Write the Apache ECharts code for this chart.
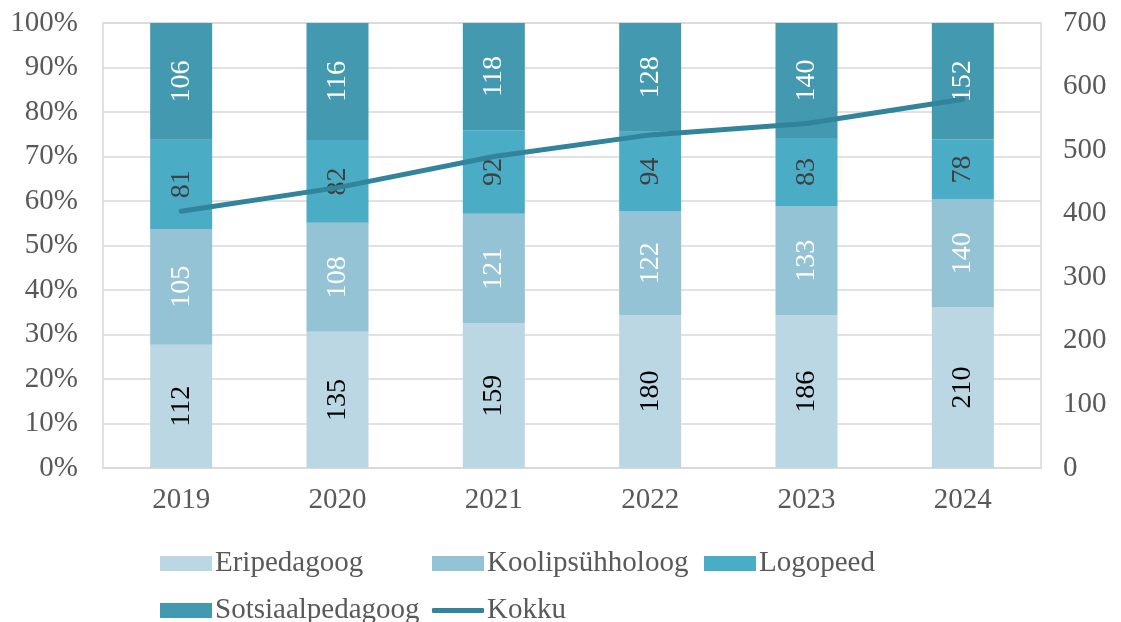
<!DOCTYPE html>
<html>
<head>
<meta charset="utf-8">
<script src="https://cdn.jsdelivr.net/npm/echarts@6/dist/echarts.min.js"></script>
<style>
  html, body { margin: 0; padding: 0; background: #fff; }
  #chart { width: 1121px; height: 622px; }
</style>
</head>
<body>
<div id="chart"></div>
<script>
// andmed
const years = ['2019', '2020', '2021', '2022', '2023', '2024']
const eripedagoog = [112, 135, 159, 180, 186, 210]
const koolipsyhholoog = [105, 108, 121, 122, 133, 140]
const logopeed = [81, 82, 92, 94, 83, 78]
const sotsiaalpedagoog = [106, 116, 118, 128, 140, 152]
const kokku = [404, 441, 490, 524, 542, 580]

const font = 'Liberation Serif, Times New Roman, serif'
const fs = 29
const chart = echarts.init(document.getElementById('chart'))

// 100% virnastamiseks arvutame osakaalud
const totals = years.map((_, i) => eripedagoog[i] + koolipsyhholoog[i] + logopeed[i] + sotsiaalpedagoog[i])
const pct = arr => arr.map((v, i) => ({ value: v / totals[i] * 100, raw: v }))

const barSeries = (name, arr, color, labelColor) => ({
  name: name,
  type: 'bar',
  stack: 'total',
  barWidth: 62,
  data: pct(arr),
  itemStyle: { color: color },
  label: {
    show: true,
    position: 'inside',
    rotate: 90,
    color: labelColor,
    fontFamily: font,
    fontSize: 28,
    formatter: p => p.data.raw
  },
  emphasis: { disabled: true }
})

const legendBase = {
  itemWidth: 52,
  itemHeight: 15,
  itemGap: 0,
  textStyle: { fontFamily: font, fontSize: fs, color: '#595959', padding: [0, 0, 0, -2] },
  icon: 'rect'
}

const option = {
  animation: false,
  grid: { left: 103, right: 80, top: 23, bottom: 154, show: true, borderColor: '#D9D9D9', borderWidth: 1.5 },
  legend: [
    Object.assign({}, legendBase, { data: ['Eripedagoog'], left: 155, top: 544 }),
    Object.assign({}, legendBase, { data: ['Koolipsühholoog'], left: 427, top: 544 }),
    Object.assign({}, legendBase, { data: ['Logopeed'], left: 699, top: 544 }),
    Object.assign({}, legendBase, { data: ['Sotsiaalpedagoog'], left: 155, top: 591 }),
    Object.assign({}, legendBase, { data: [{ name: 'Kokku', icon: 'roundRect', itemStyle: { color: '#31849B' } }], left: 427, top: 591, itemHeight: 5 })
  ],
  xAxis: {
    type: 'category',
    data: years,
    axisLine: { lineStyle: { color: '#D9D9D9', width: 1.5 } },
    axisTick: { show: false },
    axisLabel: { fontFamily: font, fontSize: fs, color: '#595959', margin: 18 }
  },
  yAxis: [
    {
      type: 'value',
      min: 0,
      max: 100,
      interval: 10,
      axisLine: { show: false },
      axisTick: { show: false },
      splitLine: { lineStyle: { color: '#D9D9D9', width: 1.5 } },
      axisLabel: { fontFamily: font, fontSize: fs, color: '#595959', margin: 25, formatter: '{value}%' }
    },
    {
      type: 'value',
      min: 0,
      max: 700,
      interval: 100,
      axisLine: { show: false },
      axisTick: { show: false },
      splitLine: { show: false },
      axisLabel: { fontFamily: font, fontSize: fs, color: '#595959', margin: 22 }
    }
  ],
  series: [
    barSeries('Eripedagoog', eripedagoog, '#BBD7E3', '#000000'),
    barSeries('Koolipsühholoog', koolipsyhholoog, '#94C3D5', '#FFFFFF'),
    barSeries('Logopeed', logopeed, '#4BACC6', '#404040'),
    barSeries('Sotsiaalpedagoog', sotsiaalpedagoog, '#4299B0', '#FFFFFF'),
    {
      name: 'Kokku',
      type: 'line',
      yAxisIndex: 1,
      data: kokku,
      symbol: 'none',
      z: 5,
      lineStyle: { color: '#31849B', width: 5, cap: 'round' },
      itemStyle: { color: '#31849B' },
      emphasis: { disabled: true }
    }
  ]
}

chart.setOption(option)
</script>
</body>
</html>
